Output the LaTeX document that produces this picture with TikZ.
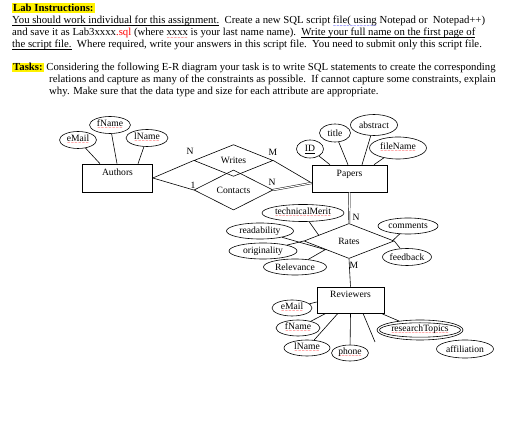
\documentclass[tikz,border=0pt]{standalone}
\usepackage{fontspec}
\setmainfont{Liberation Serif}
\newfontfamily\wavefont{DejaVu Sans}
\usepackage{tikz}
\usetikzlibrary{shapes.geometric, positioning, calc}
\definecolor{hlyellow}{RGB}{255, 242, 0}
\newcommand{\hl}[1]{{\setlength{\fboxsep}{1pt}\colorbox{hlyellow}{#1}}}
\newcommand{\ul}[1]{\leavevmode\setbox2\hbox{#1}\rlap{\rule[-2pt]{\wd2}{0.5pt}}\box2\relax}
\newcommand{\spell}[2][red]{\leavevmode\setbox0\hbox{#2}\rlap{\textcolor{#1}{\lower3.1pt\hbox to\wd0{\wavefont\fontsize{4}{4}\selectfont\xleaders\hbox{∼}\hfil}}}\box0\relax}

\begin{document}
\begin{tikzpicture}[
  x=1pt, y=-1pt,
  hdr/.style={anchor=base west, inner sep=0pt, font=\fontsize{10.75}{12}\selectfont},
  entity/.style={draw, rectangle, line width=0.6pt, text height=7pt, text depth=11pt, font=\fontsize{9.6}{11}\selectfont},
  rel/.style={draw, diamond, line width=0.6pt, inner sep=0pt, font=\fontsize{9.6}{11}\selectfont},
  attr/.style={draw, ellipse, line width=0.6pt, inner sep=0pt, font=\fontsize{9.6}{11}\selectfont},
  card/.style={inner sep=0pt, font=\fontsize{9.6}{11}\selectfont},
  conn/.style={line width=0.6pt},
  dconn/.style={line width=0.45pt, double, double distance=1.1pt}
]
  \useasboundingbox (0,0) rectangle (507,435);

  \node[hdr] (h0) at (12,11.5) {\hl{\textbf{Lab Instructions:}}};
  \node[hdr] (h1) at (12,24) {\ul{You should work individual for this assignment.}\ \ Create a new SQL script \spell[blue]{file( using} Notepad or\ \ Notepad++)};
  \node[hdr] (h2) at (12,36) {and save it as Lab3xxxx\textcolor{red}{.sql} (where \spell{xxxx} is your last name name).\ \ \ul{Write your full name on the first page of}};
  \node[hdr] (h3) at (12,47.5) {\ul{the script file.}\ \ Where required, write your answers in this script file.\ \ You need to submit only this script file.};
  \node[hdr] (h4) at (12,71) {\hl{\textbf{Tasks:}} Considering the following E-R diagram your task is to write SQL statements to create the corresponding};
  \node[hdr] (h5) at (49,83) {relations and capture as many of the constraints as possible.\ \ If cannot capture some constraints, explain};
  \node[hdr] (h6) at (49,95) {why. Make sure that the data type and size for each attribute are appropriate.};

  \node[entity, minimum width=70, minimum height=28] (authors) at (117.5,178) {Authors};
  \node[entity, minimum width=75, minimum height=27] (papers) at (349.5,178.5) {Papers};
  \node[entity, minimum width=67, minimum height=26] (reviewers) at (350.5,300) {Reviewers};

  \node[rel, minimum width=79, minimum height=22] (writes) at (233.5,160.5) {Writes};
  \node[rel, minimum width=79, minimum height=23] (contacts) at (233.5,190) {Contacts};
  \node[rel, minimum width=90, minimum height=35] (rates) at (349,241) {Rates};

  \node[attr, minimum width=37, minimum height=17] (aemail) at (78,140) {\spell{eMail}};
  \node[attr, minimum width=41, minimum height=17] (afname) at (110,125) {\spell{fName}};
  \node[attr, minimum width=42, minimum height=17] (alname) at (147,138) {\spell{lName}};

  \node[attr, minimum width=27, minimum height=18] (pid) at (310,149) {\ul{ID}};
  \node[attr, minimum width=31, minimum height=18] (ptitle) at (335,133) {title};
  \node[attr, minimum width=47, minimum height=21] (pabstract) at (374,125) {abstract};
  \node[attr, minimum width=57, minimum height=22] (pfilename) at (398,148) {\spell{fileName}};

  \node[attr, minimum width=82, minimum height=17] (rtech) at (303,213) {\spell{technicalMerit}};
  \node[attr, minimum width=67, minimum height=16] (rread) at (260,231) {readability};
  \node[attr, minimum width=68, minimum height=16] (rorig) at (263,251) {originality};
  \node[attr, minimum width=63, minimum height=16] (rrel) at (295,267) {Relevance};
  \node[attr, minimum width=60, minimum height=16] (rcomm) at (408,226) {comments};
  \node[attr, minimum width=45, minimum height=17] (rfeed) at (407,257) {feedback};

  \node[attr, minimum width=40, minimum height=16] (vemail) at (292,308) {\spell{eMail}};
  \node[attr, minimum width=44, minimum height=16] (vfname) at (298,328) {\spell{fName}};
  \node[attr, minimum width=46, minimum height=16] (vlname) at (307,348) {\spell{lName}};
  \node[attr, minimum width=37, minimum height=16] (vphone) at (350,353) {\spell{phone}};
  \node[attr, minimum width=86, minimum height=20] (vtopics) at (420,330) {\spell{researchTopics}};
  \draw[line width=0.6pt] (vtopics.center) ellipse [x radius=40.5, y radius=7.2];
  \node[attr, minimum width=57, minimum height=18] (vaffil) at (465,349) {affiliation};

  \node[card] (cw1) at (190,151) {N};
  \node[card] (cw2) at (273,152) {M};
  \node[card] (cc1) at (193,185) {1};
  \node[card] (cc2) at (272,182) {N};
  \node[card] (cr1) at (356,217) {N};
  \node[card] (cr2) at (354,265) {M};

  \coordinate (pin) at ([yshift=-4.5pt]papers.west);
  \coordinate (vfree) at (375,342);

  \draw[conn] (authors.east) -- (writes.west);
  \draw[conn] (authors.east) -- (contacts.west);
  \draw[conn] (writes.east) -- (pin);
  \draw[dconn] (contacts.east) -- (pin);
  \draw[dconn] (papers.south) -- (rates.north);
  \draw[conn] (rates.south) -- (reviewers.north);

  \draw[conn] (aemail) -- ([xshift=-17.5pt]authors.north);
  \draw[conn] (afname) -- ([xshift=-0.5pt]authors.north);
  \draw[conn] (alname) -- ([xshift=20.5pt]authors.north);

  \draw[conn] (pid) -- ([xshift=-19.5pt]papers.north);
  \draw[conn] (ptitle) -- ([xshift=-1.5pt]papers.north);
  \draw[conn] (pabstract) -- ([xshift=12.5pt]papers.north);
  \draw[conn] (pfilename) -- ([xshift=24.5pt]papers.north);

  \draw[conn] (rtech) -- ($(rates.west)!0.33!(rates.north)$);
  \draw[conn] (rread) -- ($(rates.west)!0.5!(rates.south)$);
  \draw[conn] (rorig) -- (rates.west);
  \draw[conn] (rrel) -- ($(rates.west)!0.48!(rates.south)$);
  \draw[conn] (rcomm) -- ([xshift=-2pt]rates.east);
  \draw[conn] (rfeed) -- (rates.east);

  \draw[conn] (vemail) -- ([yshift=-2pt]reviewers.west);
  \draw[conn] (vfname) -- ([xshift=-24.5pt]reviewers.south);
  \draw[conn] (vlname) -- ([xshift=-12.5pt]reviewers.south);
  \draw[conn] (vphone) -- (reviewers.south);
  \draw[conn] ([xshift=12.5pt]reviewers.south) -- (vfree);
  \draw[conn] ([xshift=30.5pt]reviewers.south) -- (vtopics);
\end{tikzpicture}
\end{document}
